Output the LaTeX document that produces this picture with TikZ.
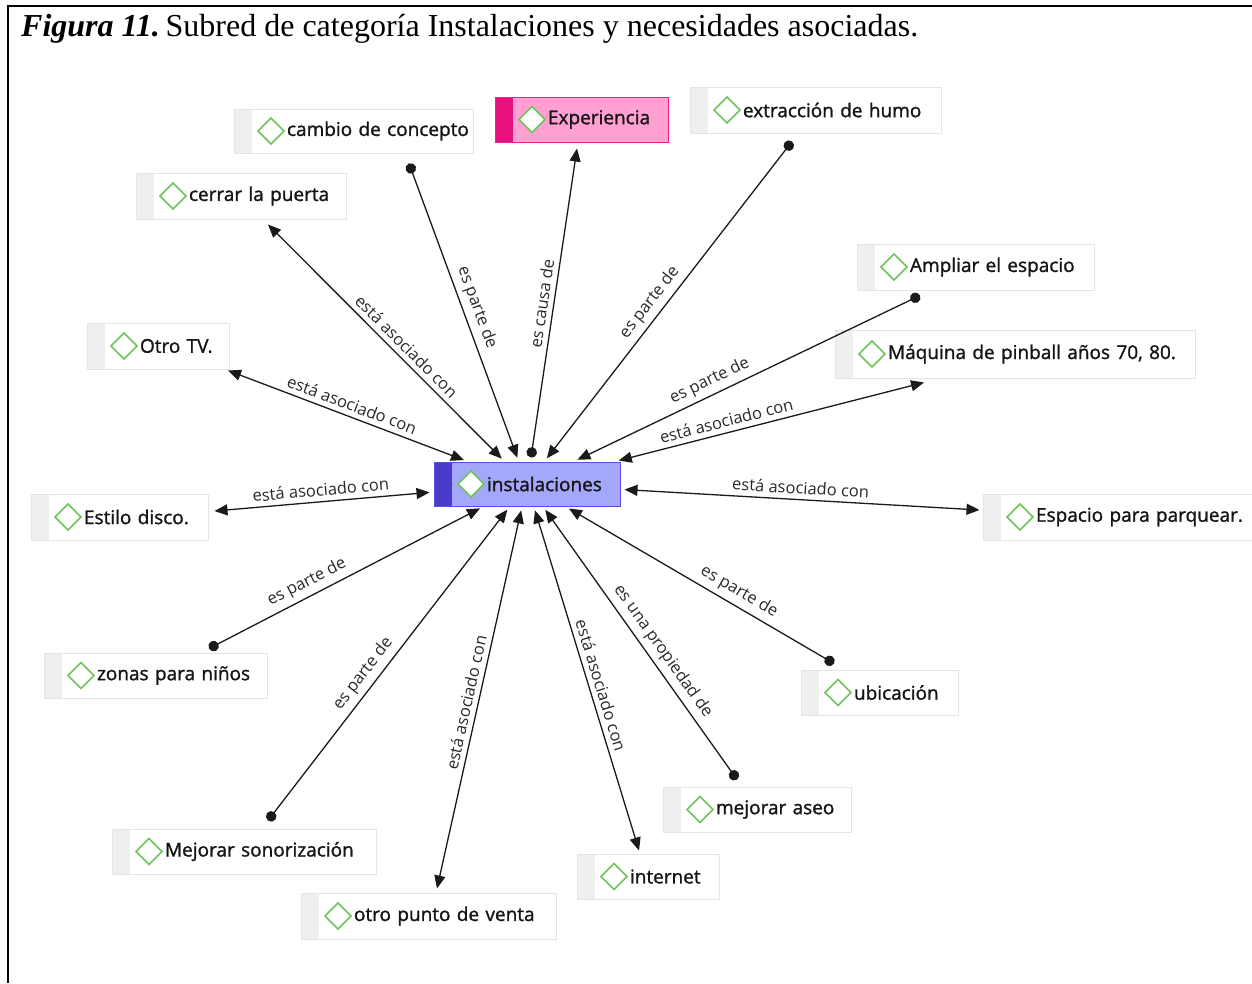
\documentclass[tikz,border=0pt]{standalone}
\usepackage{fontspec}
\setmainfont{Liberation Serif}
\newfontfamily\mapfamily[BoldFont={Open Sans}, BoldFeatures={FakeBold=1.3}]{Open Sans}
\usetikzlibrary{arrows.meta}

\definecolor{boxline}{HTML}{E4E4E4}
\definecolor{stripgray}{HTML}{EFEFEF}
\definecolor{dmdgreen}{HTML}{6CC45A}
\definecolor{instfill}{HTML}{A4A8FA}
\definecolor{instline}{HTML}{5A50E0}
\definecolor{inststrip}{HTML}{4A3CC8}
\definecolor{expfill}{HTML}{FF9FD2}
\definecolor{expline}{HTML}{EE2090}
\definecolor{expstrip}{HTML}{E8107E}
\definecolor{ink}{HTML}{151515}
\definecolor{edgeink}{HTML}{1A1A1A}
\definecolor{lblink}{HTML}{2A2A2A}

\newcommand\cptfont{\mapfamily\bfseries\fontsize{19}{22}\selectfont}
\newcommand\lblfont{\mapfamily\fontsize{16.5}{19}\selectfont}

\tikzset{
  concept/.style={draw=boxline, fill=white, line width=1pt, inner sep=0pt,
    align=left, text=ink, font=\cptfont,
    path picture={
      \fill[#1] (path picture bounding box.north west) rectangle
        ([xshift=18pt]path picture bounding box.south west);
      \draw[dmdgreen, fill=white, line width=1.6pt]
        ([xshift=24pt]path picture bounding box.west) --
        ([xshift=37pt,yshift=13pt]path picture bounding box.west) --
        ([xshift=50pt]path picture bounding box.west) --
        ([xshift=37pt,yshift=-13pt]path picture bounding box.west) -- cycle;
    }},
  concept/.default=stripgray,
  link/.style={draw=edgeink, line width=1.3pt},
  tri/.tip={Triangle[length=13pt,width=11pt]},
  dot/.tip={Circle[length=10.5pt]},
  partof/.style={link, dot-tri, shorten >=4pt},
  partofrev/.style={link, dot-tri, shorten <=4pt},
  assoc/.style={link, tri-tri, shorten >=4pt},
  lbl/.style={sloped, above=4pt, font=\lblfont, text=lblink, inner sep=1pt}
}

\begin{document}
\begin{tikzpicture}[x=1pt, y=-1pt]
\useasboundingbox (0,0) rectangle (1252,983);

% frame and caption
\draw[line width=2.2pt] (8,983) -- (8,6) -- (1252,6);
\node[anchor=base west, inner sep=0pt, font=\fontsize{32}{37}\selectfont] (caption) at (21,36)
  {\textbf{\textit{Figura 11.}}\hspace{0.18em}Subred de categoría Instalaciones y necesidades asociadas.};

% concepts
\node[concept=inststrip, fill=instfill, draw=instline, text width=186pt, minimum height=44pt] (inst) at (527,484) {\noindent\hspace*{53pt}instalaciones};
\node[concept=expstrip, fill=expfill, draw=expline, text width=173pt, minimum height=45pt] (exper) at (581.5,119.5) {\noindent\hspace*{53pt}Experiencia};
\node[concept, text width=239pt, minimum height=44pt] (cambio) at (353.5,131) {\noindent\hspace*{53pt}cambio de concepto};
\node[concept, text width=251pt, minimum height=46pt] (humo) at (815.5,110) {\noindent\hspace*{53pt}extracción de humo};
\node[concept, text width=210pt, minimum height=46pt] (cerrar) at (241,196) {\noindent\hspace*{53pt}cerrar la puerta};
\node[concept, text width=237pt, minimum height=46pt] (ampliar) at (975.5,267) {\noindent\hspace*{53pt}Ampliar el espacio};
\node[concept, text width=360pt, minimum height=48pt] (maquina) at (1015,354) {\noindent\hspace*{53pt}Máquina de pinball años 70, 80.};
\node[concept, text width=142pt, minimum height=46pt] (otrotv) at (158,346) {\noindent\hspace*{53pt}Otro TV.};
\node[concept, text width=177pt, minimum height=46pt] (estilo) at (119.5,517) {\noindent\hspace*{53pt}Estilo disco.};
\node[concept, text width=273pt, minimum height=46pt] (parq) at (1119.5,517) {\noindent\hspace*{53pt}Espacio para parquear.};
\node[concept, text width=223pt, minimum height=45pt] (zonas) at (155.5,675.5) {\noindent\hspace*{53pt}zonas para niños};
\node[concept, text width=157pt, minimum height=45pt] (ubic) at (879.5,692.5) {\noindent\hspace*{53pt}ubicación};
\node[concept, text width=188pt, minimum height=45pt] (aseo) at (757,809.5) {\noindent\hspace*{53pt}mejorar aseo};
\node[concept, text width=264pt, minimum height=45pt] (sonor) at (244,851.5) {\noindent\hspace*{53pt}Mejorar sonorización};
\node[concept, text width=142pt, minimum height=45pt] (internet) at (648,876.5) {\noindent\hspace*{53pt}internet};
\node[concept, text width=255pt, minimum height=46pt] (venta) at (428.5,916) {\noindent\hspace*{53pt}otro punto de venta};

% relations
\draw[partof] ([shift={(55.5,10)}]cambio.south) -- node[lbl, pos=.50] {es parte de} (inst);
\draw[partofrev] (inst) -- node[lbl, pos=.50] {es causa de} ([shift={(-4.5,6)}]exper.south);
\draw[partof] ([shift={(-23.5,8)}]humo.south) -- node[lbl, pos=.53] {es parte de} (inst);
\draw[assoc] ([shift={(27,5)}]cerrar.south) -- node[lbl, pos=.55] {está asociado con} (inst);
\draw[partof] ([shift={(-55.5,5)}]ampliar.south) -- node[lbl, pos=.59] {es parte de} (inst);
\draw[assoc] ([shift={(-91,4)}]maquina.south) -- node[lbl, pos=.63] {está asociado con} (inst);
\draw[assoc] ([shift={(70,1)}]otrotv.south) -- node[lbl, pos=.50] {está asociado con} (inst);
\draw[assoc] ([shift={(6,-6)}]estilo.east) -- node[lbl, pos=.49] {está asociado con} (inst);
\draw[assoc] ([shift={(-3,-7)}]parq.west) -- node[lbl, pos=.50] {está asociado con} (inst);
\draw[partof] ([shift={(53.5,-4)}]zonas.north) -- node[lbl, pos=.38] {es parte de} (inst);
\draw[partof] ([shift={(24,-8)}]sonor.north) -- node[lbl, pos=.44] {es parte de} (inst);
\draw[assoc] ([shift={(8.5,-4)}]venta.north) -- node[lbl, pos=.48] {está asociado con} (inst);
\draw[assoc] ([shift={(-9,-3)}]internet.north) -- node[lbl, pos=.47] {está asociado con} (inst);
\draw[partof] ([shift={(-20,-7)}]aseo.north) -- node[lbl, pos=.44] {es una propiedad de} (inst);
\draw[partof] ([shift={(-45.5,-6)}]ubic.north) -- node[lbl, pos=.38] {es parte de} (inst);
\end{tikzpicture}
\end{document}
